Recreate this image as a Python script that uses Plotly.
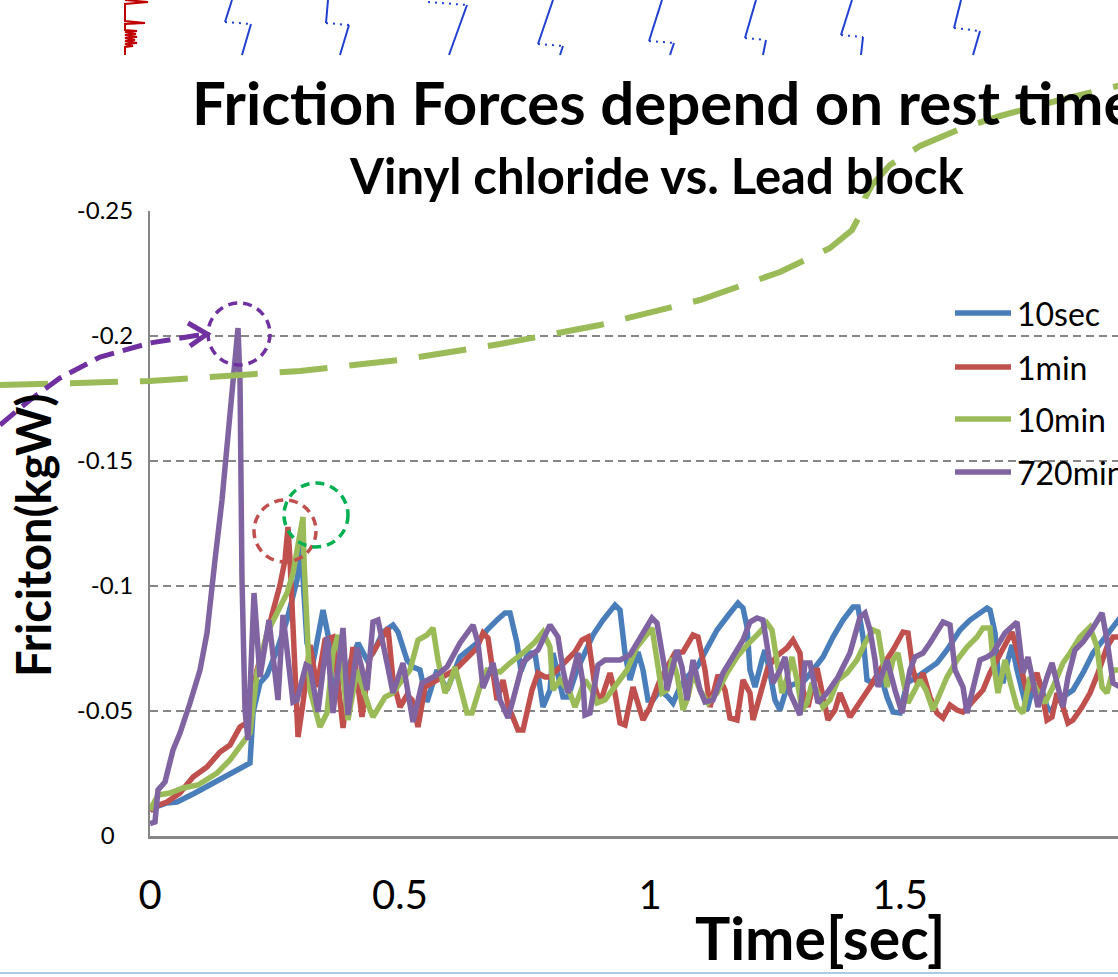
import plotly.graph_objects as go

# ---------------- data (time [s], friction [kgW]) ----------------
series_names = ["10sec", "1min", "10min", "720min"]
series_colors = ["#4A7EBB", "#C0504D", "#9BBB59", "#8064A2"]

s_10sec = [(0.000,-0.0100),(0.006,-0.0112),(0.034,-0.0132),(0.054,-0.0136),(0.090,-0.0172),(0.146,-0.0236),(0.180,-0.0272),(0.200,-0.0292),(0.206,-0.0492),(0.220,-0.0612),(0.234,-0.0644),(0.254,-0.0744),(0.274,-0.0864),(0.294,-0.1024),(0.302,-0.1164),(0.314,-0.0772),(0.326,-0.0692),(0.346,-0.0904),(0.356,-0.0804),(0.366,-0.0584),(0.394,-0.0664),(0.416,-0.0772),(0.434,-0.0704),(0.446,-0.0732),(0.466,-0.0816),(0.486,-0.0844),(0.496,-0.0816),(0.514,-0.0704),(0.526,-0.0676),(0.540,-0.0664),(0.554,-0.0536),(0.574,-0.0664),(0.594,-0.0584),(0.620,-0.0716),(0.654,-0.0772),(0.674,-0.0824),(0.694,-0.0864),(0.710,-0.0892),(0.720,-0.0892),(0.734,-0.0772),(0.742,-0.0660),(0.756,-0.0732),(0.770,-0.0732),(0.786,-0.0516),(0.800,-0.0584),(0.806,-0.0732),(0.826,-0.0556),(0.836,-0.0556),(0.854,-0.0664),(0.874,-0.0744),(0.886,-0.0804),(0.906,-0.0864),(0.930,-0.0924),(0.940,-0.0904),(0.950,-0.0732),(0.960,-0.0624),(0.970,-0.0692),(0.976,-0.0736),(0.986,-0.0664),(0.996,-0.0544),(1.006,-0.0544),(1.020,-0.0584),(1.036,-0.0556),(1.046,-0.0532),(1.060,-0.0596),(1.074,-0.0636),(1.094,-0.0676),(1.114,-0.0756),(1.134,-0.0824),(1.160,-0.0892),(1.176,-0.0932),(1.186,-0.0912),(1.194,-0.0836),(1.200,-0.0664),(1.210,-0.0596),(1.224,-0.0704),(1.230,-0.0744),(1.240,-0.0652),(1.250,-0.0544),(1.260,-0.0504),(1.274,-0.0596),(1.294,-0.0612),(1.310,-0.0624),(1.326,-0.0664),(1.346,-0.0716),(1.366,-0.0796),(1.386,-0.0864),(1.406,-0.0916),(1.416,-0.0916),(1.426,-0.0796),(1.434,-0.0624),(1.446,-0.0612),(1.460,-0.0652),(1.474,-0.0556),(1.486,-0.0496),(1.500,-0.0492),(1.514,-0.0612),(1.534,-0.0636),(1.554,-0.0664),(1.574,-0.0692),(1.594,-0.0744),(1.620,-0.0824),(1.640,-0.0864),(1.660,-0.0892),(1.674,-0.0912),(1.680,-0.0904),(1.690,-0.0812),(1.696,-0.0652),(1.706,-0.0612),(1.716,-0.0704),(1.724,-0.0764),(1.734,-0.0664),(1.744,-0.0572),(1.754,-0.0504),(1.766,-0.0596),(1.780,-0.0612),(1.794,-0.0516),(1.804,-0.0496),(1.814,-0.0556),(1.826,-0.0556),(1.846,-0.0584),(1.866,-0.0652),(1.886,-0.0732),(1.906,-0.0784),(1.926,-0.0836),(1.940,-0.0872),(1.960,-0.0896)]

s_1min = [(0.000,-0.0100),(0.006,-0.0116),(0.034,-0.0136),(0.060,-0.0172),(0.086,-0.0236),(0.114,-0.0276),(0.140,-0.0336),(0.160,-0.0364),(0.180,-0.0436),(0.196,-0.0456),(0.214,-0.0664),(0.226,-0.0744),(0.244,-0.0884),(0.260,-0.1004),(0.270,-0.1104),(0.276,-0.1236),(0.280,-0.1104),(0.296,-0.0396),(0.306,-0.0532),(0.320,-0.0764),(0.334,-0.0596),(0.350,-0.0784),(0.366,-0.0796),(0.386,-0.0432),(0.406,-0.0756),(0.424,-0.0476),(0.440,-0.0716),(0.460,-0.0784),(0.476,-0.0832),(0.486,-0.0624),(0.500,-0.0516),(0.514,-0.0564),(0.524,-0.0544),(0.536,-0.0436),(0.550,-0.0596),(0.574,-0.0624),(0.610,-0.0664),(0.630,-0.0704),(0.654,-0.0752),(0.666,-0.0812),(0.676,-0.0792),(0.694,-0.0544),(0.706,-0.0624),(0.716,-0.0524),(0.736,-0.0424),(0.746,-0.0424),(0.764,-0.0584),(0.776,-0.0652),(0.790,-0.0636),(0.800,-0.0636),(0.814,-0.0664),(0.834,-0.0704),(0.850,-0.0736),(0.864,-0.0784),(0.876,-0.0796),(0.890,-0.0596),(0.900,-0.0532),(0.920,-0.0652),(0.930,-0.0572),(0.940,-0.0452),(0.950,-0.0444),(0.966,-0.0596),(0.986,-0.0464),(1.000,-0.0516),(1.020,-0.0624),(1.050,-0.0732),(1.066,-0.0736),(1.086,-0.0804),(1.096,-0.0796),(1.110,-0.0664),(1.120,-0.0516),(1.136,-0.0644),(1.150,-0.0584),(1.160,-0.0472),(1.174,-0.0464),(1.186,-0.0624),(1.200,-0.0572),(1.206,-0.0464),(1.236,-0.0676),(1.256,-0.0724),(1.274,-0.0752),(1.286,-0.0784),(1.300,-0.0732),(1.306,-0.0584),(1.316,-0.0516),(1.334,-0.0672),(1.346,-0.0556),(1.356,-0.0464),(1.370,-0.0504),(1.380,-0.0572),(1.400,-0.0476),(1.420,-0.0532),(1.440,-0.0596),(1.460,-0.0664),(1.474,-0.0704),(1.486,-0.0744),(1.506,-0.0816),(1.516,-0.0812),(1.526,-0.0664),(1.536,-0.0604),(1.546,-0.0652),(1.560,-0.0556),(1.574,-0.0492),(1.586,-0.0472),(1.600,-0.0524),(1.614,-0.0504),(1.626,-0.0496),(1.646,-0.0544),(1.666,-0.0584),(1.680,-0.0652),(1.694,-0.0704),(1.710,-0.0756),(1.724,-0.0816),(1.734,-0.0744),(1.744,-0.0652),(1.754,-0.0572),(1.774,-0.0652),(1.784,-0.0572),(1.794,-0.0464),(1.804,-0.0476),(1.814,-0.0572),(1.826,-0.0516),(1.836,-0.0452),(1.846,-0.0464),(1.864,-0.0516),(1.880,-0.0572),(1.896,-0.0652),(1.914,-0.0756),(1.926,-0.0796),(1.940,-0.0796),(1.960,-0.0744)]

s_10min = [(0.000,-0.0104),(0.016,-0.0164),(0.040,-0.0172),(0.066,-0.0192),(0.096,-0.0204),(0.134,-0.0252),(0.160,-0.0304),(0.180,-0.0356),(0.200,-0.0412),(0.214,-0.0652),(0.234,-0.0812),(0.254,-0.0892),(0.274,-0.0972),(0.286,-0.1052),(0.296,-0.1152),(0.306,-0.1276),(0.308,-0.1104),(0.314,-0.0796),(0.320,-0.0584),(0.340,-0.0436),(0.354,-0.0492),(0.366,-0.0732),(0.376,-0.0804),(0.396,-0.0464),(0.414,-0.0664),(0.440,-0.0504),(0.446,-0.0476),(0.470,-0.0556),(0.486,-0.0572),(0.500,-0.0612),(0.520,-0.0664),(0.536,-0.0784),(0.554,-0.0804),(0.566,-0.0832),(0.576,-0.0704),(0.590,-0.0572),(0.600,-0.0612),(0.610,-0.0676),(0.634,-0.0492),(0.644,-0.0492),(0.660,-0.0596),(0.674,-0.0664),(0.700,-0.0656),(0.720,-0.0692),(0.746,-0.0732),(0.770,-0.0776),(0.786,-0.0816),(0.800,-0.0756),(0.806,-0.0584),(0.820,-0.0624),(0.840,-0.0572),(0.850,-0.0516),(0.870,-0.0624),(0.884,-0.0584),(0.894,-0.0532),(0.910,-0.0544),(0.930,-0.0596),(0.954,-0.0664),(0.974,-0.0756),(0.994,-0.0812),(1.004,-0.0832),(1.014,-0.0704),(1.024,-0.0572),(1.034,-0.0584),(1.044,-0.0712),(1.054,-0.0644),(1.066,-0.0504),(1.076,-0.0556),(1.086,-0.0652),(1.100,-0.0584),(1.116,-0.0532),(1.134,-0.0572),(1.154,-0.0652),(1.174,-0.0716),(1.194,-0.0764),(1.220,-0.0816),(1.234,-0.0852),(1.244,-0.0824),(1.254,-0.0704),(1.264,-0.0572),(1.274,-0.0632),(1.284,-0.0716),(1.294,-0.0624),(1.304,-0.0504),(1.314,-0.0532),(1.324,-0.0612),(1.336,-0.0572),(1.346,-0.0516),(1.360,-0.0544),(1.376,-0.0624),(1.394,-0.0652),(1.414,-0.0704),(1.430,-0.0772),(1.446,-0.0824),(1.456,-0.0816),(1.466,-0.0704),(1.474,-0.0596),(1.486,-0.0704),(1.496,-0.0732),(1.506,-0.0624),(1.516,-0.0532),(1.540,-0.0624),(1.552,-0.0584),(1.566,-0.0504),(1.580,-0.0572),(1.594,-0.0636),(1.614,-0.0704),(1.634,-0.0756),(1.654,-0.0796),(1.666,-0.0832),(1.680,-0.0832),(1.686,-0.0704),(1.696,-0.0572),(1.710,-0.0704),(1.722,-0.0604),(1.734,-0.0516),(1.746,-0.0492),(1.760,-0.0636),(1.774,-0.0584),(1.790,-0.0532),(1.806,-0.0596),(1.826,-0.0692),(1.840,-0.0732),(1.860,-0.0796),(1.880,-0.0836),(1.894,-0.0756),(1.904,-0.0596),(1.914,-0.0572),(1.926,-0.0664),(1.940,-0.0664),(1.960,-0.0724)]

s_720min = [(0.000,-0.0050),(0.010,-0.0056),(0.016,-0.0184),(0.030,-0.0216),(0.046,-0.0344),(0.060,-0.0412),(0.080,-0.0532),(0.100,-0.0664),(0.114,-0.0812),(0.124,-0.0972),(0.130,-0.1104),(0.144,-0.1344),(0.156,-0.1624),(0.166,-0.1824),(0.176,-0.2032),(0.180,-0.1824),(0.184,-0.1024),(0.190,-0.0504),(0.196,-0.0384),(0.208,-0.0972),(0.220,-0.0636),(0.238,-0.0864),(0.256,-0.0544),(0.266,-0.0884),(0.286,-0.0536),(0.294,-0.0544),(0.312,-0.0684),(0.320,-0.0676),(0.336,-0.0496),(0.354,-0.0796),(0.366,-0.0492),(0.386,-0.0832),(0.396,-0.0484),(0.414,-0.0752),(0.434,-0.0584),(0.446,-0.0856),(0.456,-0.0864),(0.474,-0.0692),(0.486,-0.0572),(0.506,-0.0692),(0.526,-0.0456),(0.544,-0.0612),(0.574,-0.0644),(0.594,-0.0676),(0.620,-0.0772),(0.646,-0.0844),(0.656,-0.0772),(0.666,-0.0592),(0.686,-0.0692),(0.700,-0.0544),(0.716,-0.0472),(0.726,-0.0544),(0.746,-0.0696),(0.776,-0.0744),(0.800,-0.0844),(0.816,-0.0796),(0.826,-0.0664),(0.836,-0.0572),(0.846,-0.0664),(0.856,-0.0732),(0.866,-0.0612),(0.870,-0.0484),(0.880,-0.0492),(0.896,-0.0684),(0.910,-0.0704),(0.940,-0.0704),(0.960,-0.0724),(0.980,-0.0792),(1.004,-0.0872),(1.014,-0.0852),(1.030,-0.0664),(1.034,-0.0584),(1.054,-0.0744),(1.064,-0.0676),(1.074,-0.0544),(1.086,-0.0704),(1.100,-0.0584),(1.110,-0.0536),(1.126,-0.0544),(1.146,-0.0652),(1.166,-0.0716),(1.186,-0.0784),(1.200,-0.0856),(1.214,-0.0872),(1.226,-0.0864),(1.236,-0.0732),(1.246,-0.0612),(1.260,-0.0664),(1.270,-0.0716),(1.280,-0.0572),(1.300,-0.0484),(1.310,-0.0692),(1.320,-0.0692),(1.336,-0.0532),(1.354,-0.0572),(1.376,-0.0636),(1.400,-0.0732),(1.420,-0.0876),(1.430,-0.0892),(1.440,-0.0824),(1.450,-0.0704),(1.456,-0.0596),(1.474,-0.0704),(1.490,-0.0584),(1.504,-0.0492),(1.520,-0.0664),(1.530,-0.0716),(1.546,-0.0732),(1.560,-0.0772),(1.586,-0.0856),(1.600,-0.0844),(1.610,-0.0664),(1.620,-0.0624),(1.626,-0.0596),(1.634,-0.0492),(1.646,-0.0596),(1.660,-0.0704),(1.674,-0.0716),(1.686,-0.0732),(1.710,-0.0812),(1.734,-0.0856),(1.740,-0.0756),(1.746,-0.0652),(1.756,-0.0716),(1.766,-0.0624),(1.776,-0.0516),(1.794,-0.0636),(1.804,-0.0692),(1.814,-0.0612),(1.826,-0.0516),(1.836,-0.0636),(1.850,-0.0744),(1.866,-0.0776),(1.886,-0.0832),(1.904,-0.0892),(1.914,-0.0784),(1.926,-0.0612),(1.940,-0.0596),(1.960,-0.0740)]

y_tickvals = [0, -0.05, -0.1, -0.15, -0.2, -0.25]
y_ticktext = ["0\u00a0\u00a0\u00a0", "-0.05", "-0.1", "-0.15", "-0.2", "-0.25"]
x_tickvals = [0, 0.5, 1, 1.5]
x_ticktext = ["0", "0.5", "1", "1.5"]

# ---------------- layout geometry ----------------
W, H = 1118, 977
ML, MT, MB = 150, 211, 141
PW = W - ML
PH = H - MT - MB


def P(x, y):
    """pixel position on the page -> paper coordinates (decorations only)"""
    return (x - ML) / PW, (H - MB - y) / PH


def path(pts):
    s = ""
    for i, (x, y) in enumerate(pts):
        xp, yp = P(x, y)
        s += ("M" if i == 0 else "L") + f"{xp:.5f},{yp:.5f} "
    return s.strip()


fig = go.Figure()
for name, color, pts in zip(series_names, series_colors, [s_10sec, s_1min, s_10min, s_720min]):
    fig.add_trace(go.Scatter(
        x=[p[0] for p in pts], y=[p[1] for p in pts], mode="lines", name=name,
        line=dict(color=color, width=5.5), showlegend=False, hoverinfo="skip"))

shapes = []
# dashed circles marking peaks
for (cx, cy, r, col) in [(239, 334, 31, "#7030A0"), (285, 531, 31, "#C0504D"), (316, 515, 32, "#00B050")]:
    x0, y0 = P(cx - r, cy + r)
    x1, y1 = P(cx + r, cy - r)
    shapes.append(dict(type="circle", xref="paper", yref="paper", x0=x0, y0=y0, x1=x1, y1=y1,
                       line=dict(color=col, width=3.5, dash="9px,6px"), layer="above"))

# green dashed curve
green_curve = [(0, 385), (150, 381), (300, 371), (400, 360), (500, 344), (600, 325), (700, 300),
               (780, 272), (830, 248), (852, 230), (860, 215), (865, 198), (872, 185), (890, 165),
               (920, 146), (960, 129), (1000, 116), (1060, 100), (1130, 83)]
shapes.append(dict(type="path", xref="paper", yref="paper", path=path(green_curve),
                   line=dict(color="#9BBB59", width=6, dash="48px,22px"), layer="above"))
# purple dashed arrow
purple_arrow = [(0, 425), (30, 400), (60, 378), (100, 357), (150, 343), (205, 334)]
shapes.append(dict(type="path", xref="paper", yref="paper", path=path(purple_arrow),
                   line=dict(color="#7030A0", width=5, dash="20px,9px"), layer="above"))
shapes.append(dict(type="path", xref="paper", yref="paper", path=path([(188, 323), (207, 334), (190, 346)]),
                   line=dict(color="#7030A0", width=5), layer="above"))

# top decoration (fragments of an image above the chart)
red_sq = [(125, 0), (148, 2), (125, 4), (125, 21), (145, 23), (125, 24), (125, 30), (137, 31), (125, 32),
          (136, 34), (125, 35), (137, 37), (125, 38), (135, 40), (125, 41), (137, 43), (125, 44),
          (133, 46), (125, 47), (125, 55)]
shapes.append(dict(type="path", xref="paper", yref="paper", path=path(red_sq),
                   line=dict(color="#C00000", width=2)))
blue_saw = [
    [(232, 0), (225, 22)], [(225, 22), (250, 24)], [(251, 24), (242, 55)],
    [(328, 0), (326, 23)], [(326, 23), (349, 25)], [(349, 25), (340, 55)],
    None, [(428, 2), (467, 5)], [(467, 5), (449, 55)],
    [(553, 0), (538, 44)], [(538, 44), (563, 46)], [(563, 46), (560, 55)],
    [(662, 0), (649, 41)], [(649, 41), (674, 43)], [(674, 43), (670, 55)],
    [(756, 0), (745, 38)], [(745, 38), (766, 40)], [(766, 40), (763, 55)],
    [(852, 0), (841, 35)], [(841, 35), (863, 37)], [(863, 37), (861, 55)],
    [(961, 0), (954, 28)], [(954, 28), (980, 31)], [(980, 31), (973, 55)],
]
for i, seg in enumerate(blue_saw):
    if seg is None:
        continue
    dotted = (i % 3 == 1)
    shapes.append(dict(type="path", xref="paper", yref="paper", path=path(seg),
                       line=dict(color="#2040D0", width=2, dash="2px,5px" if dotted else "solid")))

# bottom slide border
shapes.append(dict(type="line", xref="paper", yref="paper", x0=P(0, 973)[0], x1=P(1118, 973)[0],
                   y0=P(0, 973)[1], y1=P(0, 973)[1], line=dict(color="#A9CBE6", width=2)))

# manual legend
annotations = []
leg_y = [313, 367, 419, 472]
for name, color, ly in zip(series_names, series_colors, leg_y):
    x0, y0 = P(955, ly)
    x1, _ = P(1011, ly)
    shapes.append(dict(type="line", xref="paper", yref="paper", x0=x0, x1=x1, y0=y0, y1=y0,
                       line=dict(color=color, width=5.5), layer="above"))
    tx, ty = P(1015, ly)
    annotations.append(dict(xref="paper", yref="paper", x=tx, y=ty, xanchor="left", yanchor="middle",
                            text=name, showarrow=False, font=dict(family="Lato", size=32, color="black")))

# titles
tx, ty = P(190, 102)
annotations.append(dict(xref="paper", yref="paper", x=tx, y=ty, xanchor="left", yanchor="middle",
                        text="<b>Friction Forces depend on rest time</b>", showarrow=False,
                        font=dict(family="Lato", size=60, color="black")))
tx, ty = P(656, 175)
annotations.append(dict(xref="paper", yref="paper", x=tx, y=ty, xanchor="center", yanchor="middle",
                        text="<b>Vinyl chloride vs. Lead block</b>", showarrow=False,
                        font=dict(family="Lato", size=49, color="black")))
tx, ty = P(33, 536)
annotations.append(dict(xref="paper", yref="paper", x=tx, y=ty, xanchor="center", yanchor="middle",
                        text="<b>Friciton(kgW)</b>", showarrow=False, textangle=-90,
                        font=dict(family="Lato", size=47, color="black")))
tx, ty = P(820, 937)
annotations.append(dict(xref="paper", yref="paper", x=tx, y=ty, xanchor="center", yanchor="middle",
                        text="<b>Time[sec]</b>", showarrow=False,
                        font=dict(family="Lato", size=59, color="black")))

fig.update_layout(
    width=W, height=H,
    margin=dict(l=ML, r=0, t=MT, b=MB, pad=0, autoexpand=False),
    paper_bgcolor="white", plot_bgcolor="white",
    showlegend=False,
    shapes=shapes, annotations=annotations,
    xaxis=dict(range=[0, (W - ML) / 500.0], tickvals=x_tickvals, ticktext=x_ticktext,
               showgrid=False, zeroline=False, showline=True, linecolor="#868686", linewidth=2.5,
               ticks="", ticklabelstandoff=22,
               tickfont=dict(family="Liberation Sans Narrow, Lato", size=40, color="black")),
    yaxis=dict(range=[0, -0.25], tickvals=y_tickvals, ticktext=y_ticktext,
               showgrid=True, gridcolor="#868686", gridwidth=1.5, griddash="8px,5px",
               zeroline=False, showline=True, linecolor="#868686", linewidth=2,
               ticks="", ticklabelstandoff=10,
               tickfont=dict(family="Lato", size=24, color="black")),
)

fig.write_html("out.html")
